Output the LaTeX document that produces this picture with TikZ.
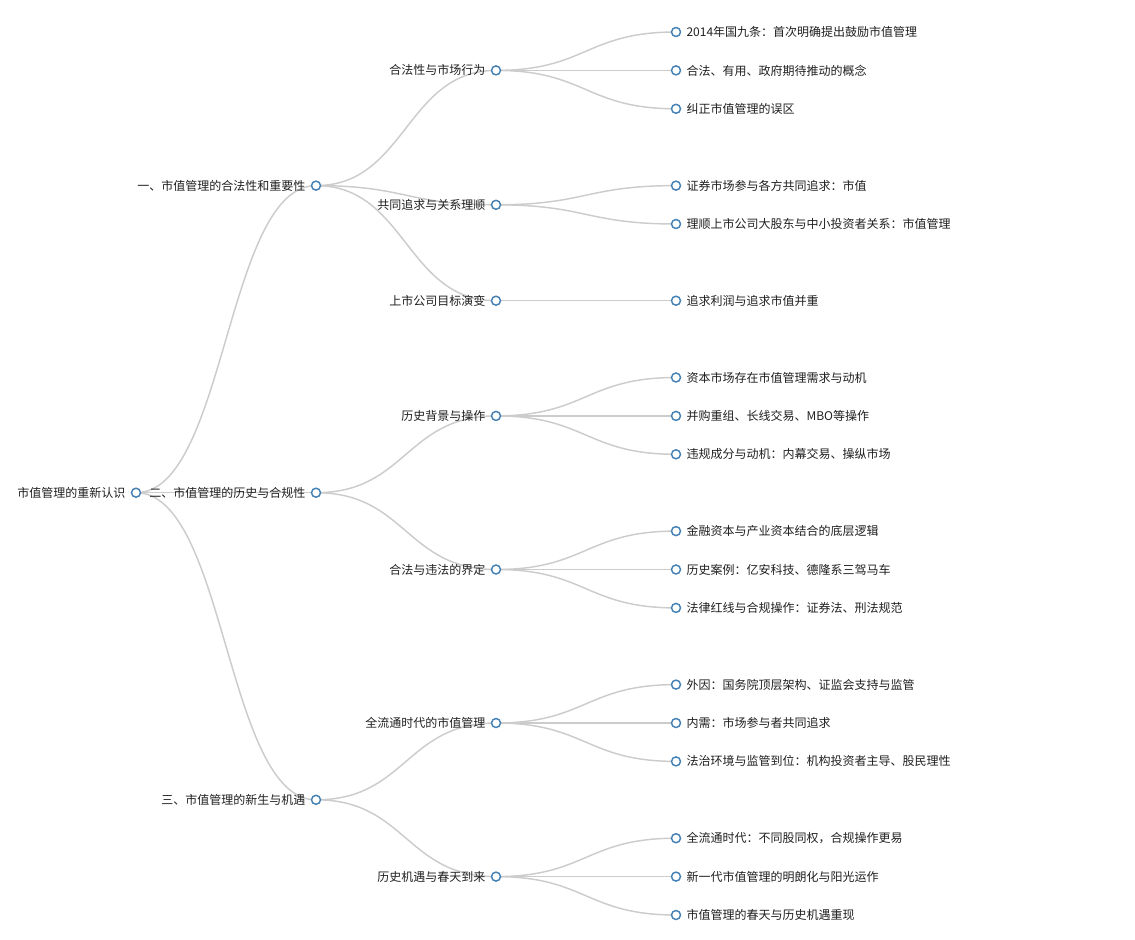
\documentclass[tikz,border=0pt]{standalone}
\usepackage{fontspec}
\setmainfont{Noto Sans CJK SC}
\usetikzlibrary{backgrounds}
\definecolor{nodeblue}{RGB}{70,130,180}
\definecolor{linkgray}{RGB}{204,204,204}
\begin{document}
\begin{tikzpicture}[x=0.75pt,y=-0.75pt,
    dot/.style={circle,draw=nodeblue,fill=white,line width=1.1pt,minimum size=6.75pt,inner sep=0pt},
    lab/.style={font=\fontsize{9}{11}\selectfont,inner sep=0pt,label distance=3.8pt,text=black!88},
    inner/.style={dot,label={[lab]left:#1}},
    leaf/.style={dot,label={[lab]right:#1}},
    link/.style={draw=linkgray,line width=1.1pt}]
  \useasboundingbox (0,0) rectangle (1135,939);
  \def\branch#1#2{\draw [link] (#1.center) .. controls +(90,0) and +(-90,0) .. (#2.center);}
  % root and first level
  \node (root) at (136,492.7) [inner=市值管理的重新认识]{};
  \node (one) at (316,185.6) [inner=一、市值管理的合法性和重要性]{};
  \node (two) at (316,492.7) [inner=二、市值管理的历史与合规性]{};
  \node (three) at (316,799.8) [inner=三、市值管理的新生与机遇]{};
  % second level
  \node (legal) at (496,70.4) [inner=合法性与市场行为]{};
  \node (common) at (496,204.8) [inner=共同追求与关系理顺]{};
  \node (goal) at (496,300.7) [inner=上市公司目标演变]{};
  \node (hist) at (496,415.9) [inner=历史背景与操作]{};
  \node (bound) at (496,569.5) [inner=合法与违法的界定]{};
  \node (full) at (496,723.0) [inner=全流通时代的市值管理]{};
  \node (spring) at (496,876.6) [inner=历史机遇与春天到来]{};
  % leaves
  \node (l1) at (676,32.0) [leaf=2014年国九条：首次明确提出鼓励市值管理]{};
  \node (l2) at (676,70.4) [leaf=合法、有用、政府期待推动的概念]{};
  \node (l3) at (676,108.8) [leaf=纠正市值管理的误区]{};
  \node (l4) at (676,185.6) [leaf=证券市场参与各方共同追求：市值]{};
  \node (l5) at (676,224.0) [leaf=理顺上市公司大股东与中小投资者关系：市值管理]{};
  \node (l6) at (676,300.7) [leaf=追求利润与追求市值并重]{};
  \node (l7) at (676,377.5) [leaf=资本市场存在市值管理需求与动机]{};
  \node (l8) at (676,415.9) [leaf=并购重组、长线交易、MBO等操作]{};
  \node (l9) at (676,454.3) [leaf=违规成分与动机：内幕交易、操纵市场]{};
  \node (l10) at (676,531.1) [leaf=金融资本与产业资本结合的底层逻辑]{};
  \node (l11) at (676,569.5) [leaf=历史案例：亿安科技、德隆系三驾马车]{};
  \node (l12) at (676,607.9) [leaf=法律红线与合规操作：证券法、刑法规范]{};
  \node (l13) at (676,684.6) [leaf=外因：国务院顶层架构、证监会支持与监管]{};
  \node (l14) at (676,723.0) [leaf=内需：市场参与者共同追求]{};
  \node (l15) at (676,761.4) [leaf=法治环境与监管到位：机构投资者主导、股民理性]{};
  \node (l16) at (676,838.2) [leaf=全流通时代：不同股同权，合规操作更易]{};
  \node (l17) at (676,876.6) [leaf=新一代市值管理的明朗化与阳光运作]{};
  \node (l18) at (676,915.0) [leaf=市值管理的春天与历史机遇重现]{};
  % links behind the dots
  \begin{pgfonlayer}{background}
    \branch{root}{one} \branch{root}{two} \branch{root}{three}
    \branch{one}{legal} \branch{one}{common} \branch{one}{goal}
    \branch{two}{hist} \branch{two}{bound}
    \branch{three}{full} \branch{three}{spring}
    \branch{legal}{l1} \branch{legal}{l2} \branch{legal}{l3}
    \branch{common}{l4} \branch{common}{l5}
    \branch{goal}{l6}
    \branch{hist}{l7} \branch{hist}{l8} \branch{hist}{l9}
    \branch{bound}{l10} \branch{bound}{l11} \branch{bound}{l12}
    \branch{full}{l13} \branch{full}{l14} \branch{full}{l15}
    \branch{spring}{l16} \branch{spring}{l17} \branch{spring}{l18}
  \end{pgfonlayer}
\end{tikzpicture}
\end{document}
